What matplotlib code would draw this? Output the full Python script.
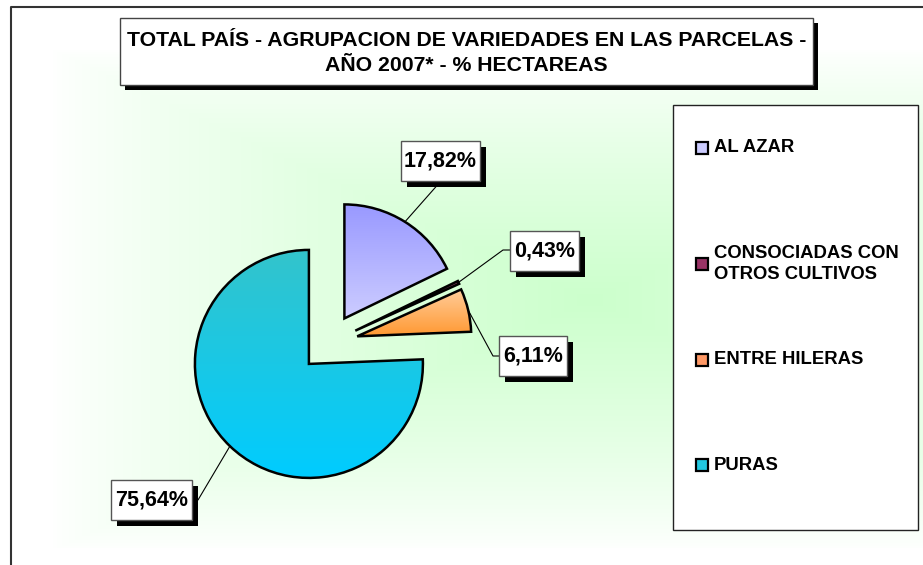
import numpy as np
import matplotlib
matplotlib.use('Agg')
import matplotlib.pyplot as plt
from matplotlib.patches import Rectangle
from matplotlib.colors import to_rgb

W, H = 923, 565

categories = ['AL AZAR', 'CONSOCIADAS CON\nOTROS CULTIVOS', 'ENTRE HILERAS', 'PURAS']
shares = [17.82, 0.43, 6.11, 75.64]
title = 'TOTAL PAÍS - AGRUPACION DE VARIEDADES EN LAS PARCELAS -\nAÑO 2007* - % HECTAREAS'

# slice gradients (top -> bottom) and legend swatches
grad_top = ['#9999FF', '#993366', '#FFCC99', '#33C4CC']
grad_bot = ['#CCCCFF', '#993366', '#FF9933', '#00CCFF']
swatch = ['#CCCCFF', '#993366', '#FF9966', '#22C8E0']

# layout in pixels, y measured from the top
label_box = [(401, 141, 79, 40), (510, 231, 69, 40), (499, 336, 68, 40), (111, 480, 81, 40)]
elbows = [(441, 181), (503, 250), (493, 356), (198, 500)]
ends = [(441, 181), (510, 250), (499, 356), (192, 500)]
legend_y = [148, 264, 360, 465]


def Y(y):
    return H - y


plt.rcParams['font.family'] = ['Liberation Sans', 'DejaVu Sans']
fig = plt.figure(figsize=(W / 100, H / 100), dpi=100)
ax = fig.add_axes([0, 0, 1, 1])

# plot area background: green centre fading to white
x0, x1, y0, y1 = 53, W, 33, 548
cx, cy, wx, wy = 590, 300, 537, 250
xs = np.arange(x0, x1) + 0.5
ys = np.arange(y0, y1) + 0.5
gx, gy = np.meshgrid(xs, ys)
t = np.maximum(np.abs(gx - cx) / wx, np.abs(gy - cy) / wy).clip(0, 1)
k = ((1 - t) ** 0.8)[..., None]
green = np.array(to_rgb('#CCFFCC'))
bg = np.ones(3) + (green - np.ones(3)) * k
ax.imshow(bg, extent=[x0, x1, Y(y1), Y(y0)], origin='upper', aspect='auto', zorder=0)

# pie, all slices pulled out (explode is in pixels here)
wedges, _ = ax.pie(shares, explode=[29] * 4, startangle=90, counterclock=False,
                   center=(329, Y(343)), radius=114, frame=True,
                   wedgeprops=dict(edgecolor='black', linewidth=1.8))
for i, w in enumerate(wedges):
    w.set_facecolor('none')
    w.set_zorder(3)
    bb = w.get_path().get_extents()
    c0, c1 = np.array(to_rgb(grad_top[i])), np.array(to_rgb(grad_bot[i]))
    s = np.linspace(0, 1, 64)[:, None, None]
    img = c0 + (c1 - c0) * s
    im = ax.imshow(img, extent=[bb.x0, bb.x1, bb.y0, bb.y1], origin='upper',
                   aspect='auto', interpolation='bilinear', zorder=2)
    im.set_clip_path(w)

    # leader line and value label
    mid = np.deg2rad((w.theta1 + w.theta2) / 2)
    px, py = w.center[0] + w.r * np.cos(mid), w.center[1] + w.r * np.sin(mid)
    ax.plot([px, elbows[i][0], ends[i][0]], [py, Y(elbows[i][1]), Y(ends[i][1])],
            color='black', lw=0.8, zorder=4)
    bx, by, bw, bh = label_box[i]
    ax.add_patch(Rectangle((bx + 6, Y(by + bh + 6)), bw, bh, fc='black', ec='none', zorder=5))
    ax.add_patch(Rectangle((bx, Y(by + bh)), bw, bh, fc='white', ec='#555555', lw=1, zorder=6))
    txt = f'{shares[i]:.2f}%'.replace('.', ',')
    ax.text(bx + bw / 2, Y(by + bh / 2), txt, ha='center', va='center',
            fontsize=15.5, fontweight='bold', zorder=7)

# title box with shadow
ax.add_patch(Rectangle((125, Y(90)), 693, 67, fc='black', ec='none', zorder=5))
ax.add_patch(Rectangle((120, Y(85)), 693, 67, fc='white', ec='#444444', lw=1, zorder=6))
ax.text(466.5, Y(53), title, ha='center', va='center', fontsize=15.3, fontweight='bold',
        linespacing=1.45, zorder=7)

# legend
ax.add_patch(Rectangle((673, Y(530)), 245, 425, fc='white', ec='#222222', lw=1, zorder=5))
for i, lab in enumerate(categories):
    yc = legend_y[i]
    ax.add_patch(Rectangle((696, Y(yc + 6)), 12, 12, fc=swatch[i], ec='black', lw=1.6, zorder=6))
    ax.text(714, Y(yc), lab, ha='left', va='center', fontsize=13.3, fontweight='bold',
            linespacing=1.35, zorder=7)

# chart border (top and left visible)
ax.plot([11, 11, W + 5], [-5, Y(7), Y(7)], color='#333333', lw=1.5, zorder=8, clip_on=False)

ax.set_xlim(0, W)
ax.set_ylim(0, H)
ax.set_aspect('auto')
ax.axis('off')

fig.savefig('out.png', dpi=100)
